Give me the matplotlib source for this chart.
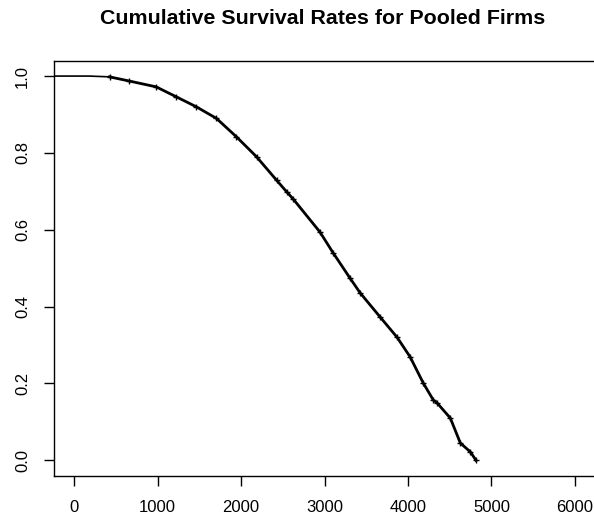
import numpy as np
import matplotlib
matplotlib.use('Agg')
import matplotlib.pyplot as plt

plt.rcParams['font.family'] = ['Liberation Sans', 'DejaVu Sans']

# survival curve (time, cumulative survival)
times = [-240, 180, 425, 664, 983, 1225, 1465, 1705, 1945, 2186, 2426, 2546,
         2625, 2946, 3103, 3306, 3426, 3666, 3870, 4026, 4183, 4303, 4350,
         4507, 4627, 4747, 4815]
surv = [1.0, 1.0, 0.998, 0.987, 0.972, 0.946, 0.920, 0.890, 0.842, 0.790,
        0.729, 0.699, 0.680, 0.594, 0.540, 0.474, 0.436, 0.373, 0.320, 0.269,
        0.201, 0.157, 0.149, 0.110, 0.045, 0.022, 0.0]

xticks = [0, 1000, 2000, 3000, 4000, 5000, 6000]
yticks = [0.0, 0.2, 0.4, 0.6, 0.8, 1.0]

W, H = 594, 519
fig = plt.figure(figsize=(W / 100, H / 100), dpi=100)
# axes box in pixels: left 54, top 60.7, bottom 475.7, right just past the edge
ax = fig.add_axes([54 / W, (H - 475.7) / H, 541 / W, 415 / H])

# flat part before the first events is thin, the rest is dense with steps/censor marks
ax.plot(times[:3], surv[:3], color='black', lw=1.2)
ax.plot(times[2:], surv[2:], color='black', lw=2.0, solid_joinstyle='round',
        marker='+', ms=4, mew=1)

ax.set_xlim(-240, 6240)
ax.set_ylim(-0.04, 1.04)
ax.set_xticks(xticks)
ax.set_xticklabels([str(t) for t in xticks])
ax.set_yticks(yticks)
ax.set_yticklabels(['%.1f' % v for v in yticks], rotation=90, va='center')

ax.tick_params(direction='out', length=7.2, width=1, pad=10, labelsize=12,
               colors='black')
for s in ax.spines.values():
    s.set_linewidth(1)
    s.set_color('black')

fig.text(323 / W, 1 - 18 / H, 'Cumulative Survival Rates for Pooled Firms',
         ha='center', va='center', fontsize=15.4, fontweight='bold')

fig.savefig('out.png', dpi=100)
